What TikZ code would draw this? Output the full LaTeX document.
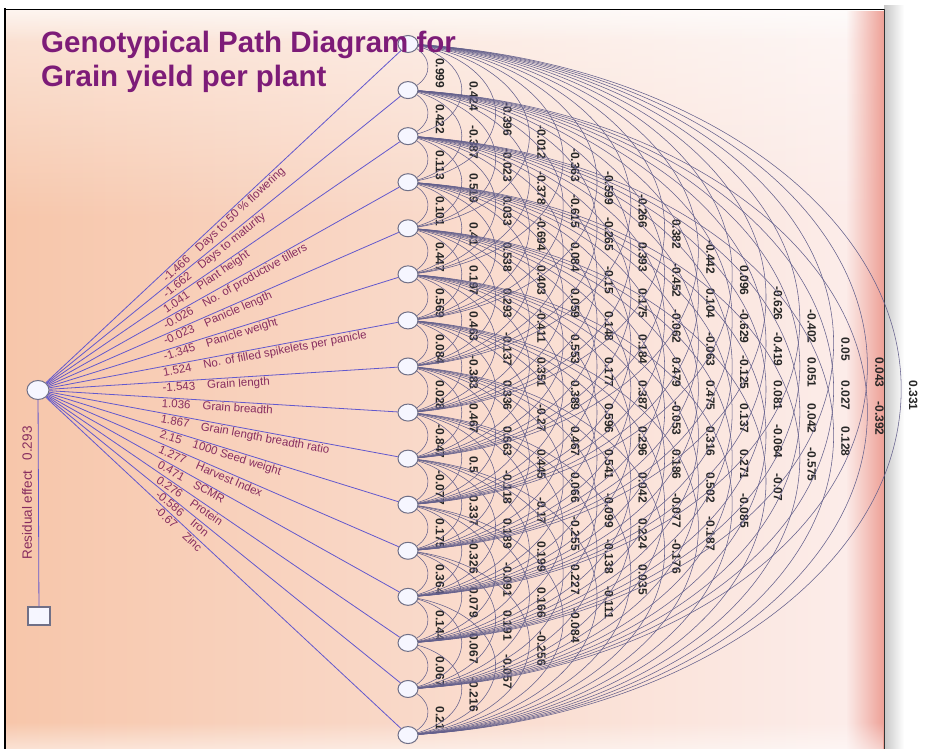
\documentclass[tikz,border=0pt]{standalone}
\usepackage{fontspec}
\setmainfont{Liberation Sans}
\usetikzlibrary{shapes.geometric,fadings}
\definecolor{titlepurple}{RGB}{125,28,120}
\definecolor{fanblue}{RGB}{98,88,205}
\definecolor{arcgrey}{RGB}{100,96,140}
\definecolor{nodeline}{RGB}{112,112,135}
\definecolor{nodefill}{RGB}{246,246,255}
\definecolor{pathlabel}{RGB}{135,45,95}
\definecolor{peachleft}{RGB}{247,198,170}
\definecolor{peachright}{RGB}{252,238,236}
\definecolor{bevelpink}{RGB}{238,160,150}
\tikzset{
  var/.style={ellipse, draw=nodeline, fill=nodefill, line width=1pt, minimum width=20pt, minimum height=17pt, inner sep=0pt},
  resbox/.style={rectangle, draw=nodeline, fill=nodefill, line width=1.2pt, minimum width=22pt, minimum height=18pt, inner sep=0pt},
  fan/.style={fanblue, line width=0.8pt},
  link/.style={arcgrey, line width=0.55pt},
  corr/.style={rotate=-90, font=\bfseries\fontsize{12}{13}\selectfont, text=black!85, inner sep=0pt},
  coef/.style={sloped, anchor=north west, inner sep=1pt, text=pathlabel, font=\fontsize{11.5}{12}\selectfont},
}
\begin{document}
\begin{tikzpicture}[x=1pt,y=1pt]
\useasboundingbox (0,0) rectangle (938,-749);
\fill[white] (0,0) rectangle (938,-749);
\shade[left color=black!22, right color=white] (884,-6) rectangle (904,-749);
\shade[left color=peachleft, right color=peachright] (6,-10) rectangle (884,-749);
\fill[white, opacity=0.55, path fading=south] (6,-10) rectangle (884,-220);
\fill[white, opacity=0.6, path fading=south] (6,-10) rectangle (884,-42);
\fill[bevelpink, path fading=west] (846,-10) rectangle (884,-749);
\fill[white, opacity=0.5, path fading=north] (6,-722) rectangle (884,-749);
\draw[black, line width=2.5pt] (5,-8) -- (5,-749);
\draw[black, line width=1.5pt] (4,-9.5) -- (884,-9.5);
\draw[black!80, line width=1pt] (884,-9) -- (884,-749);

\foreach \i in {1,...,16} {
  \coordinate (p\i) at (408,{-44-46.07*(\i-1)});
}

\foreach \k/\vals in {
  1/{0.999,0.422,0.113,0.101,0.447,0.569,0.084,0.028,-0.847,-0.077,0.175,0.364,0.144,0.067,0.21},
  2/{0.424,-0.387,0.519,0.41,0.197,0.463,-0.383,0.467,0.5,0.337,-0.326,0.079,0.067,-0.216},
  3/{-0.396,-0.023,0.033,0.538,0.293,-0.137,0.336,0.663,-0.118,0.189,-0.091,0.191,-0.057},
  4/{-0.012,-0.378,-0.694,0.403,-0.411,0.351,-0.27,0.445,-0.17,0.199,0.166,-0.256},
  5/{-0.363,-0.615,0.084,0.059,0.553,0.389,0.467,0.066,-0.255,0.227,-0.084},
  6/{-0.599,-0.265,-0.15,0.148,0.177,0.596,0.541,-0.099,-0.138,-0.111},
  7/{-0.266,0.393,0.175,0.184,0.387,0.296,0.042,0.224,0.035},
  8/{0.382,-0.452,-0.062,0.479,-0.053,0.186,-0.077,-0.176},
  9/{-0.442,0.104,-0.063,0.475,0.316,0.502,-0.187},
  10/{0.096,-0.629,-0.125,0.137,0.271,-0.085},
  11/{-0.626,-0.419,0.081,-0.064,-0.07},
  12/{-0.402,0.051,0.042,-0.575},
  13/{0.05,0.027,0.128},
  14/{0.043,-0.392},
  15/{0.331}} {
  \foreach \v [count=\i] in \vals {
    \pgfmathsetmacro\wp{(20+33.8*(\k-1))/1.55}
    \pgfmathsetmacro\hc{23.035*\k}
    \pgfmathsetmacro\R{\wp/2+\hc*(\hc/(2*\wp))}
    \pgfmathsetmacro\ta{atan2(\hc,\R-\wp)}
    \pgfmathsetmacro\A{1.55*\R}
    \pgfmathsetmacro\ya{-44-46.07*(\i-1)}
    \draw[link] (p\i) arc[start angle=\ta, end angle=-\ta, x radius=\A pt, y radius=\R pt];
    \node[corr] (c\k-\i) at ({440+33.8*(\k-1)},{\ya-\hc-6}) {\v};
  }
}

\foreach \i in {1,...,16} {
  \node[var] (v\i) at (p\i) {};
}
\node[var, minimum width=22pt, minimum height=19pt] (src) at (38,-390) {};
\node[resbox] (res) at (39,-616) {};
\draw[fan] (src) -- (res) node[pos=0.45, rotate=90, anchor=south, inner sep=6pt, text=pathlabel, font=\fontsize{13.5}{14}\selectfont] (resid) {Residual effect\hspace{10pt}0.293};

\foreach \i/\p/\nm in {1/-1.466/Days to 50 \% flowering, 2/-1.662/Days to maturity,
  3/1.041/Plant height, 4/-0.026/No. of productive tillers, 5/-0.023/Panicle length,
  6/-1.345/Panicle weight, 7/1.524/No. of filled spikelets per panicle,
  8/-1.543/Grain length, 9/1.036/Grain breadth, 10/1.867/Grain length breadth ratio,
  11/2.15/1000 Seed weight, 12/1.277/Harvest Index, 13/0.471/SCMR, 14/0.276/Protein,
  15/-0.586/Iron, 16/-0.67/Zinc} {
  \draw[fan] (src) -- (v\i) node[coef, pos=0.32] (f\i) {\p\hspace{12pt}\nm};
}

\node[anchor=base west, text=titlepurple, font=\bfseries\fontsize{29.5}{34}\selectfont, inner sep=0pt] (title1) at (41,-53) {Genotypical Path Diagram for};
\node[anchor=base west, text=titlepurple, font=\bfseries\fontsize{29.5}{34}\selectfont, inner sep=0pt] (title2) at (41,-87) {Grain yield per plant};
\end{tikzpicture}
\end{document}
